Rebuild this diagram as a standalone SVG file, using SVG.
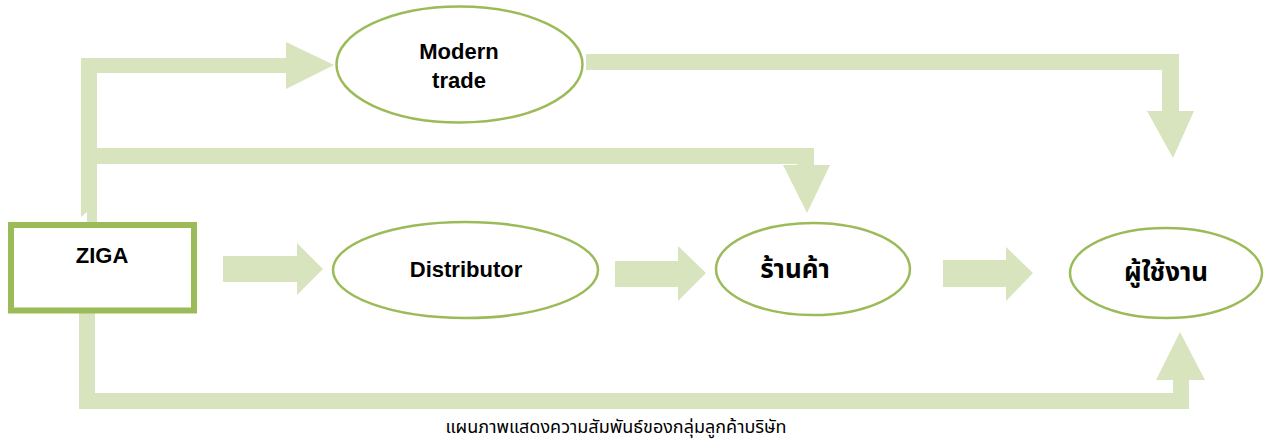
<svg xmlns="http://www.w3.org/2000/svg" width="1268" height="441" viewBox="0 0 1268 441">
<style>
.arr{fill:#D7E4BD;stroke:none}
.node{fill:#FFFFFF;stroke:#9BBB59;stroke-width:2.5}
.box{fill:#FFFFFF;stroke:#9BBB59;stroke-width:6}
.lbl{font-family:"Liberation Sans",Arial,sans-serif;font-weight:bold;font-size:22px;fill:#000;text-anchor:middle}
.th{font-family:"Noto Sans Thai","Noto Sans","DejaVu Sans",sans-serif;font-weight:bold;font-size:26px;fill:#000;text-anchor:middle}
.cap{font-family:"Noto Sans Thai","Noto Sans","DejaVu Sans",sans-serif;font-size:18px;fill:#000;text-anchor:middle}
</style>
<rect width="1268" height="441" fill="#FFFFFF"/>
<g id="connectors">
<polygon class="arr" points="81,58 81,217 87,212 87,226 97,226 97,73 286,73 286,89 334,65 286,42 286,58"/>
<polygon class="arr" points="97,148 814,148 814,165 830,165 807,213 783,165 797,165 797,164 97,164"/>
<polygon class="arr" points="586,54 1179,54 1179,111 1194,111 1173,158 1147,111 1162,111 1162,70 586,70"/>
<polygon class="arr" points="79,313 95,313 95,393 1173,393 1173,380 1156,380 1180,332 1205,380 1189,380 1189,409 79,409"/>
<polygon class="arr" points="223,256 297,256 297,243 323,269 297,295 297,282 223,282"/>
<polygon class="arr" points="615,261 678,261 678,246 706,273 678,301 678,287 615,287"/>
<polygon class="arr" points="943,260 1006,260 1006,247 1033,273 1006,301 1006,287 943,287"/>
</g>
<g id="ziga">
<rect class="box" x="11" y="225" width="183" height="85.5"/>
<text class="lbl" x="102" y="263">ZIGA</text>
</g>
<g id="modern-trade">
<ellipse class="node" cx="459.5" cy="64.5" rx="123" ry="58"/>
<text class="lbl" x="459" y="59">Modern</text>
<text class="lbl" x="459" y="88">trade</text>
</g>
<g id="distributor">
<ellipse class="node" cx="465.5" cy="270" rx="132.5" ry="48"/>
<text class="lbl" x="466" y="277">Distributor</text>
</g>
<g id="shop">
<ellipse class="node" cx="813" cy="269" rx="97" ry="46"/>
<text class="th" x="795" y="278">ร้านค้า</text>
</g>
<g id="user">
<ellipse class="node" cx="1166" cy="273" rx="96" ry="45"/>
<text class="th" x="1166" y="281">ผู้ใช้งาน</text>
</g>
<text class="cap" x="616" y="433">แผนภาพแสดงความสัมพันธ์ของกลุ่มลูกค้าบริษัท</text>
</svg>
